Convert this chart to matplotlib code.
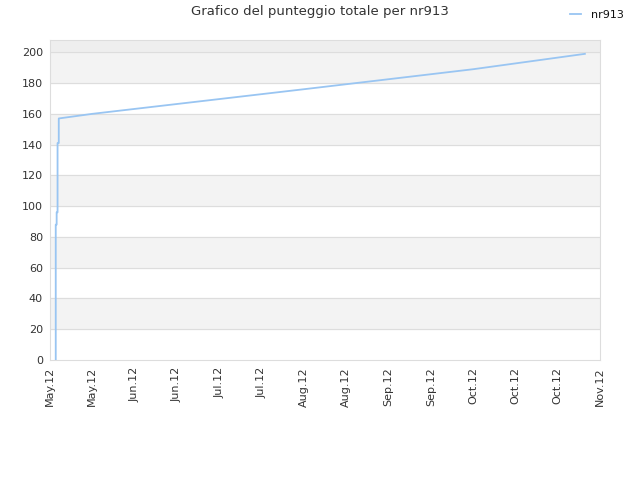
import matplotlib
matplotlib.use('Agg')
import matplotlib.pyplot as plt

# days since the start of the x axis, and the total score
days = [1.9, 1.9, 2.2, 2.2, 2.5, 2.5, 2.9, 2.9, 14, 84, 140, 177]
score = [0, 88, 88, 96, 96, 141, 141, 157, 160, 176, 189, 199]

tick_labels = ['May.12', 'May.12', 'Jun.12', 'Jun.12', 'Jul.12', 'Jul.12', 'Aug.12',
               'Aug.12', 'Sep.12', 'Sep.12', 'Oct.12', 'Oct.12', 'Oct.12', 'Nov.12']
tick_step = 14

fig = plt.figure(figsize=(6.4, 4.8), dpi=100)
ax = fig.add_axes([50/640, 120/480, 550/640, 320/480])

ymax = 208
#alternating bands
for y0 in range(0, 200, 20):
    if (y0 // 20) % 2 == 1:
        ax.axhspan(y0, y0 + 20, color='#f3f3f3', zorder=0)
ax.axhspan(200, ymax, color='#eeeeee', zorder=0)
for y0 in range(20, 201, 20):
    ax.axhline(y0, color='#dddddd', lw=0.8, zorder=1)

ax.plot(days, score, color='#99c5f2', lw=1.3, label='nr913', zorder=3)

xmax = tick_step * (len(tick_labels) - 1)
ax.set_xlim(0, xmax)
ax.set_ylim(0, ymax)
ax.set_xticks([i * tick_step for i in range(len(tick_labels))])
ax.set_xticklabels(tick_labels, rotation=90)
ax.set_yticks(range(0, 201, 20))
ax.tick_params(length=0, labelsize=8, colors='#333333', pad=5)
for s in ax.spines.values():
    s.set_color('#dddddd')

fig.suptitle('Grafico del punteggio totale per nr913', x=0.5, y=0.99, fontsize=9.5, color='#333333')
fig.legend(loc='upper right', bbox_to_anchor=(0.99, 1.0), frameon=False, fontsize=8,
           handlelength=1.0, handletextpad=0.9, labelcolor='#111111')

fig.savefig('out.png', dpi=100)
